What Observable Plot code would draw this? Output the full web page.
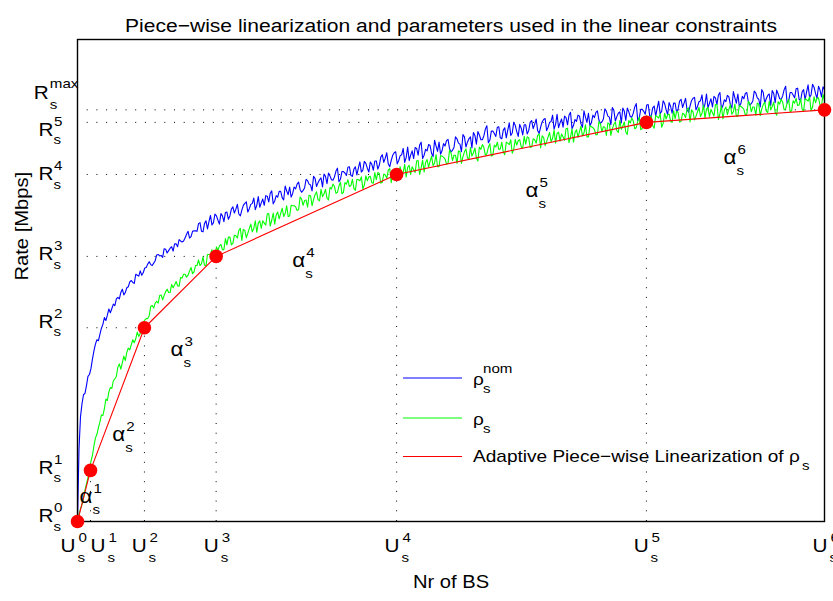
<!DOCTYPE html>
<html><head><meta charset="utf-8">
<script src="https://cdn.jsdelivr.net/npm/d3@7"></script>
<script src="https://cdn.jsdelivr.net/npm/@observablehq/plot@0.6"></script>
<style>html,body{margin:0;padding:0;background:#fff}</style>
</head><body>
<script>
// ---------- data ----------
const titleText = "Piece\u2212wise linearization and parameters used in the linear constraints";
const xLabel = "Nr of BS";
const yLabel = "Rate [Mbps]";
const legendLabels = ["nom", "", "Adaptive Piece\u2212wise Linearization of \u03c1"];

const nrBS = d3.range(0, 501);
const rhoNom = [0, 15.0, 21.7, 24.4, 26.3, 26.6, 28.2, 30.1, 30.5, 31.7,
 33.7, 35.4, 36.8, 37.7, 37.5, 38.8, 40.1, 40.9, 42.3, 41.7,
 42.8, 44.1, 43.3, 44.2, 45.1, 44.8, 46.2, 46.5, 46.2, 47.5,
 48.2, 47.0, 47.5, 48.5, 48.7, 49.7, 50.0, 49.6, 49.4, 51.3,
 51.1, 50.9, 52.0, 51.1, 51.6, 52.6, 52.7, 53.4, 53.9, 53.3,
 53.1, 53.6, 54.1, 55.3, 55.4, 55.1, 55.2, 54.8, 56.6, 56.5,
 55.7, 56.2, 56.7, 57.0, 56.1, 57.6, 57.6, 57.0, 58.5, 58.2,
 58.0, 58.2, 58.8, 59.6, 60.2, 58.8, 59.1, 60.2, 60.3, 60.3,
 60.2, 61.8, 62.0, 60.2, 60.1, 61.8, 62.4, 60.7, 62.2, 63.5,
 61.5, 62.0, 63.8, 63.4, 62.5, 61.7, 63.9, 63.4, 62.2, 64.1,
 64.2, 62.7, 63.4, 64.8, 65.3, 64.0, 64.8, 65.8, 63.8, 63.4,
 64.6, 65.6, 66.0, 66.3, 64.2, 64.9, 65.8, 66.0, 67.1, 64.7,
 65.6, 67.4, 65.2, 66.1, 66.9, 65.6, 67.6, 67.5, 66.3, 68.1,
 68.6, 65.9, 66.5, 67.6, 67.3, 68.5, 68.5, 67.2, 66.7, 69.6,
 68.6, 67.8, 69.4, 67.3, 68.0, 69.4, 69.0, 70.0, 70.4, 68.9,
 68.3, 68.7, 69.2, 71.0, 70.7, 70.0, 69.8, 68.6, 71.6, 71.2,
 69.5, 70.3, 70.9, 71.3, 69.4, 72.1, 71.6, 70.1, 72.3, 71.7,
 70.9, 70.8, 71.5, 72.7, 73.3, 70.5, 71.0, 72.6, 72.6, 72.3,
 71.8, 73.5, 73.6, 71.8, 71.6, 73.1, 73.6, 71.9, 73.3, 74.6,
 72.5, 72.9, 74.7, 74.3, 73.3, 72.5, 74.6, 74.1, 72.9, 74.8,
 74.8, 73.1, 73.9, 75.6, 76.1, 74.5, 75.4, 76.5, 74.2, 73.6,
 74.9, 76.0, 76.5, 76.7, 74.2, 74.9, 75.9, 76.1, 77.4, 74.5,
 75.5, 77.7, 74.9, 76.0, 76.9, 75.3, 77.6, 77.4, 76.0, 78.1,
 78.7, 75.3, 76.0, 77.2, 76.9, 78.2, 78.0, 76.4, 75.7, 79.1,
 77.9, 76.8, 78.7, 76.2, 76.9, 78.4, 77.9, 79.0, 79.3, 77.4,
 76.7, 77.0, 77.6, 79.8, 79.4, 78.5, 78.3, 76.7, 80.3, 79.8,
 77.7, 78.7, 79.4, 79.8, 77.5, 80.7, 80.1, 78.3, 80.9, 80.2,
 79.2, 79.2, 80.0, 81.4, 82.1, 78.6, 79.1, 81.0, 81.0, 80.5,
 79.9, 81.8, 81.9, 79.6, 79.4, 81.2, 81.7, 79.6, 81.2, 82.7,
 80.1, 80.6, 82.8, 82.2, 80.9, 79.9, 82.4, 81.6, 80.2, 82.3,
 82.3, 80.4, 81.1, 82.8, 83.2, 81.5, 82.4, 83.5, 81.1, 80.5,
 81.8, 82.9, 83.4, 83.6, 81.1, 81.8, 82.8, 83.0, 84.3, 81.4,
 82.4, 84.5, 81.7, 82.7, 83.5, 81.8, 84.1, 83.8, 82.3, 84.3,
 84.9, 81.5, 82.2, 83.4, 83.0, 84.3, 84.1, 82.5, 81.8, 85.2,
 83.9, 82.8, 84.7, 82.1, 82.8, 84.3, 83.8, 84.9, 85.2, 83.3,
 82.6, 82.9, 83.5, 85.6, 85.1, 84.1, 83.9, 82.3, 85.9, 85.3,
 83.1, 84.0, 84.7, 85.0, 82.7, 85.8, 85.1, 83.2, 85.8, 85.0,
 84.0, 83.9, 84.7, 86.0, 86.7, 83.2, 83.7, 85.5, 85.5, 85.1,
 84.5, 86.4, 86.5, 84.2, 84.0, 85.8, 86.2, 84.1, 85.7, 87.2,
 84.6, 85.1, 87.3, 86.7, 85.4, 84.4, 86.9, 86.1, 84.7, 86.8,
 86.8, 84.9, 85.6, 87.2, 87.6, 85.9, 86.8, 87.8, 85.4, 84.9,
 86.2, 87.3, 87.8, 88.0, 85.4, 86.1, 87.1, 87.3, 88.5, 85.6,
 86.6, 88.7, 85.8, 86.8, 87.7, 86.0, 88.2, 87.9, 86.5, 88.5,
 89.0, 85.6, 86.3, 87.5, 87.1, 88.4, 88.1, 86.5, 85.8, 89.2,
 87.9, 86.8, 88.7, 86.1, 86.7, 88.2, 87.7, 88.8, 89.0, 87.1,
 86.4, 86.7, 87.2, 89.3, 88.9, 87.9, 87.6, 86.0, 89.6, 89.0,
 86.8, 87.7, 88.4, 88.7, 86.3, 89.4, 88.8, 86.9, 89.5, 88.7,
 87.7, 87.6, 88.3, 89.6, 90.3, 86.8, 87.2, 89.0, 89.0, 88.5,
 87.9, 89.8, 89.9, 87.6, 87.3, 89.1, 89.6, 87.5, 89.1, 90.6,
 88.0, 88.5, 90.7, 90.1, 88.8, 87.8, 90.3, 89.5, 88.1, 90.2,
 89.6];
const rho = [0, 1.5, 2.6, 3.5, 4.8, 6.5, 7.8, 9.1, 10.7, 12.5,
 13.7, 15.7, 17.3, 18.1, 19.5, 20.6, 22.1, 22.0, 23.4, 25.4,
 25.1, 26.9, 27.8, 27.6, 29.2, 29.6, 30.1, 32.0, 32.7, 31.6,
 32.9, 34.3, 33.4, 35.1, 36.0, 35.6, 36.7, 37.7, 37.1, 37.9,
 39.3, 38.4, 39.0, 40.8, 41.3, 41.8, 42.1, 42.1, 42.7, 44.6,
 44.8, 44.3, 45.3, 45.7, 45.3, 46.9, 47.0, 46.0, 46.9, 47.7,
 48.2, 47.5, 47.5, 49.2, 48.5, 49.1, 49.8, 48.9, 48.8, 50.6,
 50.5, 51.3, 51.3, 50.7, 51.1, 52.0, 52.7, 51.4, 51.8, 53.1,
 53.1, 54.3, 53.1, 53.5, 54.9, 53.2, 53.0, 55.4, 55.4, 55.4,
 56.4, 54.1, 55.0, 57.0, 56.2, 57.2, 57.5, 56.4, 56.4, 58.7,
 57.4, 59.0, 59.0, 57.4, 57.7, 59.4, 59.3, 58.8, 60.4, 60.8,
 58.3, 60.6, 60.4, 58.9, 59.8, 60.8, 61.7, 60.1, 60.8, 62.4,
 60.0, 61.9, 62.4, 60.8, 62.4, 61.9, 61.5, 63.8, 63.9, 61.3,
 62.5, 64.0, 61.7, 63.6, 64.2, 62.8, 63.9, 65.0, 63.3, 63.9,
 65.5, 63.3, 63.4, 65.6, 65.5, 65.5, 65.3, 64.5, 64.7, 67.3,
 66.9, 65.6, 66.6, 66.7, 65.2, 67.7, 67.6, 65.5, 66.8, 67.8,
 68.4, 66.8, 66.5, 68.9, 67.4, 68.0, 68.9, 67.1, 66.7, 69.3,
 69.0, 70.0, 69.5, 68.1, 68.3, 69.6, 70.4, 68.0, 68.3, 70.3,
 70.0, 70.9, 69.5, 69.7, 71.0, 69.1, 68.7, 71.0, 70.9, 70.7,
 71.5, 69.0, 69.8, 71.7, 70.7, 71.5, 71.6, 70.3, 70.2, 72.4,
 70.9, 72.4, 72.2, 70.2, 70.4, 72.1, 71.9, 71.2, 72.9, 73.2,
 70.3, 72.8, 72.5, 70.8, 71.6, 72.6, 73.6, 71.7, 72.4, 74.1,
 71.5, 73.5, 73.9, 72.0, 73.6, 73.0, 72.4, 74.8, 74.9, 72.0,
 73.3, 75.0, 72.5, 74.5, 75.1, 73.5, 74.7, 75.8, 73.8, 74.4,
 76.1, 73.6, 73.6, 75.9, 75.8, 75.6, 75.2, 74.2, 74.3, 77.0,
 76.5, 74.9, 76.0, 76.0, 74.3, 76.9, 76.7, 74.3, 75.7, 76.7,
 77.3, 75.5, 75.1, 77.6, 75.8, 76.5, 77.5, 75.4, 74.8, 77.7,
 77.2, 78.2, 77.6, 76.0, 76.3, 77.6, 78.4, 75.8, 76.0, 78.1,
 77.7, 78.7, 77.2, 77.3, 78.7, 76.6, 76.1, 78.7, 78.5, 78.2,
 79.2, 76.4, 77.2, 79.3, 78.1, 79.0, 79.2, 77.7, 77.5, 79.9,
 78.3, 79.8, 79.6, 77.6, 77.7, 79.4, 79.2, 78.5, 80.1, 80.4,
 77.5, 80.0, 79.7, 78.0, 78.8, 79.8, 80.7, 78.8, 79.5, 81.2,
 78.5, 80.5, 80.8, 78.9, 80.4, 79.8, 79.1, 81.5, 81.6, 78.6,
 79.8, 81.4, 78.7, 80.7, 81.3, 79.7, 80.9, 82.0, 80.0, 80.6,
 82.3, 79.8, 79.8, 82.1, 81.9, 81.7, 81.3, 80.2, 80.3, 83.0,
 82.5, 80.9, 81.9, 81.8, 80.1, 82.7, 82.5, 80.1, 81.5, 82.4,
 82.9, 81.1, 80.7, 83.2, 81.4, 82.0, 82.9, 80.8, 80.3, 83.2,
 82.7, 83.7, 83.1, 81.5, 81.7, 83.0, 83.9, 81.3, 81.5, 83.6,
 83.2, 84.2, 82.7, 82.9, 84.2, 82.1, 81.6, 84.2, 84.0, 83.7,
 84.6, 81.8, 82.6, 84.7, 83.5, 84.4, 84.5, 83.0, 82.8, 85.2,
 83.6, 85.1, 84.9, 82.9, 83.0, 84.7, 84.5, 83.8, 85.5, 85.8,
 82.9, 85.4, 85.0, 83.3, 84.1, 85.0, 85.9, 84.0, 84.7, 86.4,
 83.7, 85.6, 85.9, 84.0, 85.5, 84.8, 84.1, 86.5, 86.5, 83.4,
 84.6, 86.2, 83.5, 85.4, 86.0, 84.4, 85.5, 86.5, 84.5, 85.0,
 86.6, 84.1, 84.1, 86.3, 86.1, 85.9, 85.5, 84.4, 84.5, 87.2,
 86.7, 85.0, 86.0, 86.0, 84.3, 86.8, 86.6, 84.2, 85.6, 86.5,
 87.0, 85.2, 84.8, 87.2, 85.4, 86.1, 87.0, 84.9, 84.3, 87.1,
 86.6, 87.6, 87.0, 85.4, 85.6, 86.8, 87.6, 85.0, 85.2, 87.3,
 86.8, 87.8, 86.3, 86.4, 87.7, 85.6, 85.1, 87.7, 87.5, 87.2,
 88.1, 85.2, 86.0, 88.1, 86.9, 87.8, 87.9, 86.4, 86.2, 88.6,
 87.4];

// breakpoints of the piece-wise linearization (U_s^k, R_s^k)
const breakU = [0, 8.7, 44.8, 92.8, 213.6, 380.8, 500];
const breakR = [0, 10.6, 40.2, 55.0, 72.0, 82.8, 85.4];

// tick labels
const uLabelPos = [0, 20.0, 47.6, 95.8, 216.8, 383.6, 503.4];
const uLabelIdx = ["0", "1", "2", "3", "4", "5", "6"];
const rLabelPos = [1.1, 11.1, 41.4, 55.4, 72.0, 81.3, 88.9];
const rLabelSup = ["0", "1", "2", "3", "4", "5", "max"];

// slope annotations alpha_s^k
const alphaU = [1.3, 23.2, 62.2, 143.8, 299.8, 432.4];
const alphaV = [3.9, 16.8, 34.4, 52.8, 67.3, 74.2];
const alphaIdx = ["1", "2", "3", "4", "5", "6"];

// ---------- build ----------
const rows = nrBS.map((u, i) => ({u, nom: rhoNom[i], rho: rho[i]}));
const pts = breakU.map((u, i) => ({u, r: breakR[i]}));
const guides = pts.slice(1);
const uLab = uLabelPos.map((p, i) => ({p, k: uLabelIdx[i]}));
const rLab = rLabelPos.map((p, i) => ({p, k: rLabelSup[i]}));
const rDig = rLab.filter(d => d.k !== "max");
const rMax = rLab.filter(d => d.k === "max");
const alphas = alphaU.map((u, i) => ({u, v: alphaV[i], k: alphaIdx[i]}));

const font = "'Liberation Sans', Arial, Helvetica, sans-serif";
const dotted = {stroke: "#000", strokeWidth: 1, strokeDasharray: "1,8.7"};
const T = {fill: "#000", lineAnchor: "bottom"};
const big = 18.5, small = 13.5;

const chart = Plot.plot({
  width: 833, height: 601,
  marginLeft: 77, marginRight: 9, marginTop: 39, marginBottom: 80,
  x: {domain: [0, 500], axis: null},
  y: {domain: [0, 100], axis: null},
  style: {fontFamily: font, background: "#fff", color: "#000", overflow: "visible"},
  marks: [
    Plot.ruleY(guides, {y: "r", x1: () => 0, x2: "u", ...dotted}),
    Plot.ruleX(guides, {x: "u", y1: () => 0, y2: "r", ...dotted}),
    Plot.line(rows, {x: "u", y: "nom", stroke: "#0000ff", strokeWidth: 1.1}),
    Plot.line(rows, {x: "u", y: "rho", stroke: "#00ff00", strokeWidth: 1.1}),
    Plot.line(pts, {x: "u", y: "r", stroke: "#ff0000", strokeWidth: 1.1}),
    Plot.frame({stroke: "#000", strokeWidth: 1.4}),
    Plot.dot(pts, {x: "u", y: "r", r: 6.8, fill: "#ff0000", stroke: "none"}),
    // x tick labels U_s^k
    Plot.text(uLab, {...T, x: "p", y: () => 0, text: () => "U", textAnchor: "end", dx: -2, dy: 30.7, fontSize: big}),
    Plot.text(uLab, {...T, x: "p", y: () => 0, text: "k", textAnchor: "start", dx: 1, dy: 20, fontSize: small}),
    Plot.text(uLab, {...T, x: "p", y: () => 0, text: () => "s", textAnchor: "start", dx: 0, dy: 40.7, fontSize: small}),
    // y tick labels R_s^k
    Plot.text(rDig, {...T, x: () => 0, y: "p", text: () => "R", textAnchor: "end", dx: -24, dy: 6, fontSize: big}),
    Plot.text(rDig, {...T, x: () => 0, y: "p", text: "k", textAnchor: "start", dx: -23.5, dy: -4, fontSize: small}),
    Plot.text(rDig, {...T, x: () => 0, y: "p", text: () => "s", textAnchor: "start", dx: -24, dy: 14.5, fontSize: small}),
    Plot.text(rMax, {...T, x: () => 0, y: "p", text: () => "R", textAnchor: "end", dx: -28.7, dy: 6, fontSize: big}),
    Plot.text(rMax, {...T, x: () => 0, y: "p", text: "k", textAnchor: "start", dx: -27.7, dy: -5.5, fontSize: small}),
    Plot.text(rMax, {...T, x: () => 0, y: "p", text: () => "s", textAnchor: "start", dx: -27.7, dy: 16, fontSize: small}),
    // alpha_s^k annotations
    Plot.text(alphas, {...T, x: "u", y: "v", text: () => "\u03b1", textAnchor: "start", fontSize: 20}),
    Plot.text(alphas, {...T, x: "u", y: "v", text: "k", textAnchor: "start", dx: 14, dy: -10, fontSize: small}),
    Plot.text(alphas, {...T, x: "u", y: "v", text: () => "s", textAnchor: "start", dx: 13, dy: 11, fontSize: small}),
    // title and axis labels
    Plot.text([titleText], {fill: "#000", text: d => d, frameAnchor: "top", dy: -21, fontSize: 18.8}),
    Plot.text([xLabel], {fill: "#000", text: d => d, frameAnchor: "bottom", dy: 66, fontSize: 18}),
    Plot.text([yLabel], {fill: "#000", text: d => d, frameAnchor: "left", dx: -55, rotate: -90, fontSize: 18})
  ]
});
document.body.append(chart);

// legend (no box, as in the original)
const svg = d3.select(chart);
const lg = svg.append("g").attr("font-family", font).attr("fill", "#000").attr("text-anchor", "start");
const legendColors = ["#0000ff", "#00ff00", "#ff0000"];
const legendY = [378, 418, 456.5];
legendColors.forEach((c, i) => {
  lg.append("line").attr("x1", 403).attr("x2", 462).attr("y1", legendY[i]).attr("y2", legendY[i])
    .attr("stroke", c).attr("stroke-width", 1.2);
});
const lt = (x, y, size, s) => lg.append("text").attr("x", x).attr("y", y).attr("font-size", size).attr("text-anchor", "start").text(s);
lt(473, 385, 17, "\u03c1");
lt(483, 373, small, legendLabels[0]);
lt(483, 393, small, "s");
lt(473, 425, 17, "\u03c1");
lt(483, 433, small, "s");
lt(473, 462, 17, legendLabels[2]);
lt(802, 470, small, "s");

// widen glyphs slightly (the original's Helvetica rendering is wider than Liberation Sans)
chart.querySelectorAll("text").forEach(t => {
  const w = t.getComputedTextLength();
  if (w > 0) {
    t.setAttribute("textLength", (w * 1.12).toFixed(2));
    t.setAttribute("lengthAdjust", "spacingAndGlyphs");
  }
});
</script>
</body></html>
